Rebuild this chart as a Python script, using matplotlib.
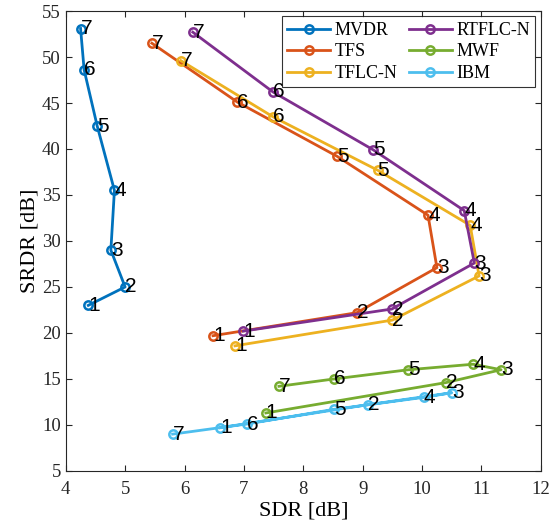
import matplotlib
matplotlib.use("Agg")
import matplotlib.pyplot as plt

# values (SDR, SRDR) per method, point labels 1..7
labels = ["1", "2", "3", "4", "5", "6", "7"]

mvdr_sdr = [4.38, 5.00, 4.76, 4.82, 4.53, 4.31, 4.25]
mvdr_srdr = [23.0, 25.0, 29.0, 35.5, 42.5, 48.6, 53.1]

tfs_sdr = [6.48, 8.90, 10.25, 10.10, 8.57, 6.89, 5.45]
tfs_srdr = [19.7, 22.2, 27.1, 32.8, 39.2, 45.1, 51.5]

tflc_sdr = [6.85, 9.50, 10.96, 10.81, 9.25, 7.49, 5.94]
tflc_srdr = [18.6, 21.4, 26.2, 31.7, 37.7, 43.5, 49.6]

rtflc_sdr = [6.99, 9.49, 10.88, 10.71, 9.18, 7.49, 6.14]
rtflc_srdr = [20.2, 22.6, 27.6, 33.3, 39.9, 46.2, 52.7]

mwf_sdr = [7.37, 10.40, 11.33, 10.86, 9.77, 8.52, 7.59]
mwf_srdr = [11.3, 14.6, 16.0, 16.6, 16.0, 15.0, 14.2]

ibm_sdr = [6.60, 9.09, 10.50, 10.03, 8.52, 7.05, 5.80]
ibm_srdr = [9.7, 12.2, 13.5, 13.0, 11.7, 10.1, 9.0]

series = [
    ("MVDR", mvdr_sdr, mvdr_srdr, "#0072BD"),
    ("TFS", tfs_sdr, tfs_srdr, "#D95319"),
    ("TFLC-N", tflc_sdr, tflc_srdr, "#EDB120"),
    ("RTFLC-N", rtflc_sdr, rtflc_srdr, "#7E2F8E"),
    ("MWF", mwf_sdr, mwf_srdr, "#77AC30"),
    ("IBM", ibm_sdr, ibm_srdr, "#4DBEEE"),
]

SERIF = ["Liberation Serif", "DejaVu Serif"]

fig = plt.figure(figsize=(5.57, 5.25), dpi=100)
ax = fig.add_axes([0.118, 0.103, 0.853, 0.876])

for name, xs, ys, col in series:
    ax.plot(xs, ys, "-o", color=col, lw=2.0, ms=6, mfc="none", mew=1.8, label=name)
    for x, y, t in zip(xs, ys, labels):
        ax.text(x, y, t, fontsize=15, ha="left", va="center", color="black",
                family=["Liberation Sans", "DejaVu Sans"])

ax.set_xlim(4, 12)
ax.set_ylim(5, 55)
ax.set_xticks(range(4, 13))
ax.set_yticks(range(5, 56, 5))
ax.tick_params(direction="in", top=True, right=True, length=4, width=0.8,
               colors="#262626", labelsize=13.5)
ax.tick_params(axis="x", pad=7)
for lab in ax.get_xticklabels() + ax.get_yticklabels():
    lab.set_family(SERIF)
for sp in ax.spines.values():
    sp.set_color("#262626")
    sp.set_linewidth(0.8)

ax.set_xlabel("SDR [dB]", fontsize=16, family=SERIF, labelpad=3)
ax.set_ylabel("SRDR [dB]", fontsize=16, family=SERIF, labelpad=2)

leg = ax.legend(ncol=2, loc="upper right", prop={"family": SERIF, "size": 13},
                frameon=True, fancybox=False, edgecolor="black", borderaxespad=0.3,
                handlelength=2.4, columnspacing=0.6, handletextpad=0.25,
                labelspacing=0.25, borderpad=0.3)
leg.get_frame().set_linewidth(0.8)

fig.savefig("out.png", dpi=100, facecolor="white")
